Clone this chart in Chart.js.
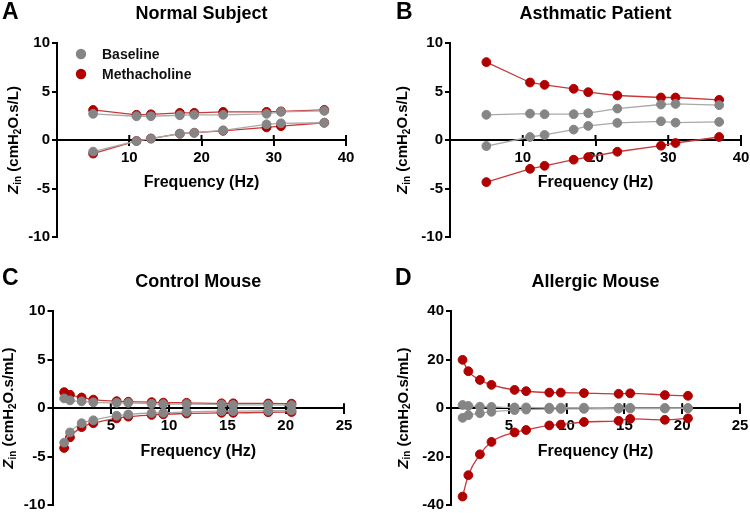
<!DOCTYPE html>
<html><head><meta charset="utf-8">
<script src="https://cdn.jsdelivr.net/npm/chart.js@4"></script>
<style>
html,body{margin:0;padding:0;background:#fff}
body{width:750px;height:513px;overflow:hidden;position:relative}
.p{position:absolute}
canvas{display:block}
</style></head><body>
<div class="p" style="left:0;top:0;width:375px;height:256px"><canvas id="cA" width="375" height="256"></canvas></div>
<div class="p" style="left:375px;top:0;width:400px;height:256px"><canvas id="cB" width="400" height="256"></canvas></div>
<div class="p" style="left:0;top:256px;width:375px;height:270px"><canvas id="cC" width="375" height="270"></canvas></div>
<div class="p" style="left:375px;top:256px;width:400px;height:270px"><canvas id="cD" width="400" height="270"></canvas></div>
<script>
// ---------- data ----------
const freqHuman = [5, 11, 13, 17, 19, 23, 29, 31, 37];
const freqMouse = [1, 1.5, 2.5, 3.5, 5.5, 6.5, 8.5, 9.5, 11.5, 14.5, 15.5, 18.5, 20.5];

const normalBaselineR = [2.7, 2.45, 2.45, 2.55, 2.6, 2.6, 2.7, 2.9, 3.0];
const normalBaselineX = [-1.2, -0.1, 0.15, 0.65, 0.75, 1.0, 1.62, 1.72, 1.78];
const normalMchR = [3.1, 2.6, 2.65, 2.8, 2.8, 2.9, 2.9, 2.95, 3.1];
const normalMchX = [-1.4, -0.1, 0.15, 0.65, 0.75, 0.95, 1.3, 1.42, 1.78];

const asthmaBaselineR = [2.6, 2.72, 2.66, 2.66, 2.76, 3.24, 3.66, 3.72, 3.59];
const asthmaBaselineX = [-0.62, 0.31, 0.52, 1.07, 1.45, 1.76, 1.93, 1.79, 1.86];
const asthmaMchR = [8.03, 5.93, 5.69, 5.28, 4.93, 4.59, 4.38, 4.38, 4.14];
const asthmaMchX = [-4.34, -2.97, -2.66, -2.03, -1.76, -1.21, -0.59, -0.31, 0.31];

const controlBaselineR = [1.0, 0.8, 0.7, 0.6, 0.55, 0.55, 0.45, 0.42, 0.42, 0.38, 0.33, 0.34, 0.31];
const controlBaselineX = [-3.55, -2.5, -1.55, -1.25, -0.78, -0.65, -0.5, -0.48, -0.38, -0.31, -0.31, -0.27, -0.24];
const controlMchR = [1.65, 1.38, 1.1, 0.88, 0.72, 0.66, 0.62, 0.57, 0.55, 0.5, 0.5, 0.48, 0.46];
const controlMchX = [-4.1, -3.0, -1.95, -1.55, -1.05, -0.88, -0.7, -0.63, -0.55, -0.48, -0.48, -0.42, -0.4];

const allergicBaselineR = [1.3, 0.9, 0.6, 0.5, 0.3, 0.3, 0.2, 0.2, 0.2, 0.15, 0.15, 0.1, 0.1];
const allergicBaselineX = [-4.0, -2.9, -2.1, -1.5, -0.8, -0.6, -0.4, -0.35, -0.3, -0.2, -0.2, -0.15, -0.1];
const allergicMchR = [19.9, 15.2, 11.6, 9.6, 7.5, 7.0, 6.4, 6.4, 6.2, 5.9, 6.1, 5.4, 5.1];
const allergicMchX = [-36.4, -27.6, -19.0, -13.9, -10.0, -9.0, -7.1, -6.8, -5.7, -5.2, -4.4, -4.8, -4.2];

const seriesNames = ['Baseline', 'Methacholine'];
const panelLetters = ['A', 'B', 'C', 'D'];
const panelTitles = ['Normal Subject', 'Asthmatic Patient', 'Control Mouse', 'Allergic Mouse'];
const xAxisTitle = 'Frequency (Hz)';
const humanXTicks = [0, 40, 10];   // min, max, step
const mouseXTicks = [0, 25, 5];
const humanYTicks = [-10, 10, 5];
const controlYTicks = [-10, 10, 5];
const allergicYTicks = [-40, 40, 20];
const humanUnit = 'L';
const mouseUnit = 'mL';

// ---------- styling ----------
const FONT = '"Liberation Sans", Arial, Helvetica, sans-serif';
const GREY_PT = '#858585', GREY_LN = '#a9a9a9';
const RED_PT = '#b00000', RED_LN = '#c8383a';
const YW = 45; // width reserved for y tick labels

function pts(xs, ys) { return xs.map((x, i) => ({x: x, y: ys[i]})); }

function ds(label, data, isRed, smooth) {
  return {
    label: label, data: data,
    borderColor: isRed ? RED_LN : GREY_LN,
    borderWidth: 1.3,
    backgroundColor: isRed ? RED_PT : GREY_PT,
    pointBackgroundColor: isRed ? RED_PT : GREY_PT,
    pointBorderColor: isRed ? RED_PT : GREY_PT,
    pointBorderWidth: 1,
    pointRadius: 4.4,
    tension: 0,
    cubicInterpolationMode: smooth ? 'monotone' : 'default',
    showLine: true
  };
}

const decoPlugin = {
  id: 'deco',
  beforeDatasetsDraw(chart, args, o) {
    const xs = chart.scales.x, ys = chart.scales.y, ctx = chart.ctx;
    const y0 = ys.getPixelForValue(0);
    ctx.save();
    ctx.strokeStyle = '#000'; ctx.lineWidth = 2;
    xs.ticks.forEach(t => {
      if (t.value === xs.min) return;
      const px = xs.getPixelForValue(t.value);
      ctx.beginPath(); ctx.moveTo(px, y0 - 5); ctx.lineTo(px, y0); ctx.stroke();
    });
    ctx.restore();
  },
  afterDraw(chart, args, o) {
    const ctx = chart.ctx, ca = chart.chartArea;
    const cx = (ca.left + ca.right) / 2;
    const y0 = chart.scales.y.getPixelForValue(0);
    ctx.save();
    ctx.fillStyle = '#000';
    ctx.textBaseline = 'middle';
    // panel letter
    ctx.font = 'bold 23px ' + FONT; ctx.textAlign = 'left';
    ctx.fillText(o.letter, o.letterX, o.letterY);
    // title
    ctx.font = 'bold 18px ' + FONT; ctx.textAlign = 'center';
    ctx.fillText(o.title, cx, ca.top - 29);
    // x axis title
    ctx.font = 'bold 16px ' + FONT;
    ctx.fillText(o.xTitle, cx, y0 + 43);
    // y axis title with subscripts
    const parts = [
      {t: 'Z', f: 'italic bold 15px ' + FONT, dy: 0},
      {t: 'in', f: 'bold 10px ' + FONT, dy: 4},
      {t: ' (cmH', f: 'bold 15px ' + FONT, dy: 0},
      {t: '2', f: 'bold 10px ' + FONT, dy: 4},
      {t: 'O.s/' + o.unit + ')', f: 'bold 15px ' + FONT, dy: 0}
    ];
    let w = 0;
    parts.forEach(p => { ctx.font = p.f; p.w = ctx.measureText(p.t).width; w += p.w; });
    ctx.translate(ca.left - o.yTitleOff, (ca.top + ca.bottom) / 2);
    ctx.rotate(-Math.PI / 2);
    ctx.textAlign = 'left';
    let x = -w / 2;
    parts.forEach(p => { ctx.font = p.f; ctx.fillText(p.t, x, p.dy); x += p.w; });
    ctx.restore();
    // legend
    if (o.legend) {
      ctx.save();
      ctx.textBaseline = 'middle'; ctx.textAlign = 'left';
      ctx.font = 'bold 14px ' + FONT;
      const items = [[seriesNames[0], GREY_PT], [seriesNames[1], RED_PT]];
      items.forEach((it, i) => {
        const py = ca.top + 11 + i * 20;
        ctx.fillStyle = it[1];
        ctx.beginPath(); ctx.arc(ca.left + 24, py, 5.2, 0, Math.PI * 2); ctx.fill();
        ctx.fillStyle = '#111';
        ctx.fillText(it[0], ca.left + 45, py + 1);
      });
      ctx.restore();
    }
  }
};

function makePanel(id, cfg) {
  const smooth = cfg.smooth;
  const pad = Object.assign({}, cfg.pad, {left: cfg.pad.left - YW});
  new Chart(document.getElementById(id), {
    type: 'scatter',
    data: {
      datasets: [
        ds(seriesNames[0] + ' R', pts(cfg.freq, cfg.bR), false, smooth),
        ds(seriesNames[0] + ' X', pts(cfg.freq, cfg.bX), false, smooth),
        ds(seriesNames[1] + ' R', pts(cfg.freq, cfg.mR), true, smooth),
        ds(seriesNames[1] + ' X', pts(cfg.freq, cfg.mX), true, smooth)
      ]
    },
    options: {
      responsive: false, animation: false, devicePixelRatio: 1,
      layout: {padding: pad},
      plugins: {
        legend: {display: false}, tooltip: {enabled: false}, title: {display: false},
        deco: {letter: cfg.letter, title: cfg.title, xTitle: xAxisTitle, unit: cfg.unit,
               letterX: cfg.letterX, letterY: cfg.letterY, yTitleOff: cfg.yTitleOff, legend: !!cfg.legend}
      },
      scales: {
        x: {
          type: 'linear', position: {y: 0},
          min: cfg.xt[0], max: cfg.xt[1],
          ticks: {stepSize: cfg.xt[2], color: '#000', padding: 4, maxRotation: 0,
                  font: {family: FONT, size: 15, weight: 'bold'},
                  callback: v => (v === cfg.xt[0] ? '' : v)},
          grid: {drawOnChartArea: false, drawTicks: true, tickLength: 5, color: '#000', lineWidth: 2},
          border: {display: true, color: '#000', width: 2}
        },
        y: {
          type: 'linear', position: 'left',
          min: cfg.yt[0], max: cfg.yt[1],
          afterFit: s => { s.width = YW; },
          ticks: {stepSize: cfg.yt[2], color: '#000', padding: 2,
                  font: {family: FONT, size: 15, weight: 'bold'}},
          grid: {drawOnChartArea: false, drawTicks: true, tickLength: 5, color: '#000', lineWidth: 2},
          border: {display: true, color: '#000', width: 2}
        }
      }
    },
    plugins: [decoPlugin]
  });
}

makePanel('cA', {freq: freqHuman, bR: normalBaselineR, bX: normalBaselineX, mR: normalMchR, mX: normalMchX,
  xt: humanXTicks, yt: humanYTicks, letter: panelLetters[0], title: panelTitles[0], unit: humanUnit,
  pad: {left: 57, right: 29, top: 43, bottom: 19}, letterX: 2, letterY: 13, yTitleOff: 43, legend: true, smooth: false});
makePanel('cB', {freq: freqHuman, bR: asthmaBaselineR, bX: asthmaBaselineX, mR: asthmaMchR, mX: asthmaMchX,
  xt: humanXTicks, yt: humanYTicks, letter: panelLetters[1], title: panelTitles[1], unit: humanUnit,
  pad: {left: 75, right: 34, top: 43, bottom: 19}, letterX: 21, letterY: 13, yTitleOff: 47, smooth: false});
makePanel('cC', {freq: freqMouse, bR: controlBaselineR, bX: controlBaselineX, mR: controlMchR, mX: controlMchX,
  xt: mouseXTicks, yt: controlYTicks, letter: panelLetters[2], title: panelTitles[2], unit: mouseUnit,
  pad: {left: 52.5, right: 31, top: 55, bottom: 20.7}, letterX: 2, letterY: 23, yTitleOff: 43.5, smooth: true});
makePanel('cD', {freq: freqMouse, bR: allergicBaselineR, bX: allergicBaselineX, mR: allergicMchR, mX: allergicMchX,
  xt: mouseXTicks, yt: allergicYTicks, letter: panelLetters[3], title: panelTitles[3], unit: mouseUnit,
  pad: {left: 76, right: 35, top: 55, bottom: 20.7}, letterX: 20, letterY: 23, yTitleOff: 47.5, smooth: true});
</script>
</body></html>
